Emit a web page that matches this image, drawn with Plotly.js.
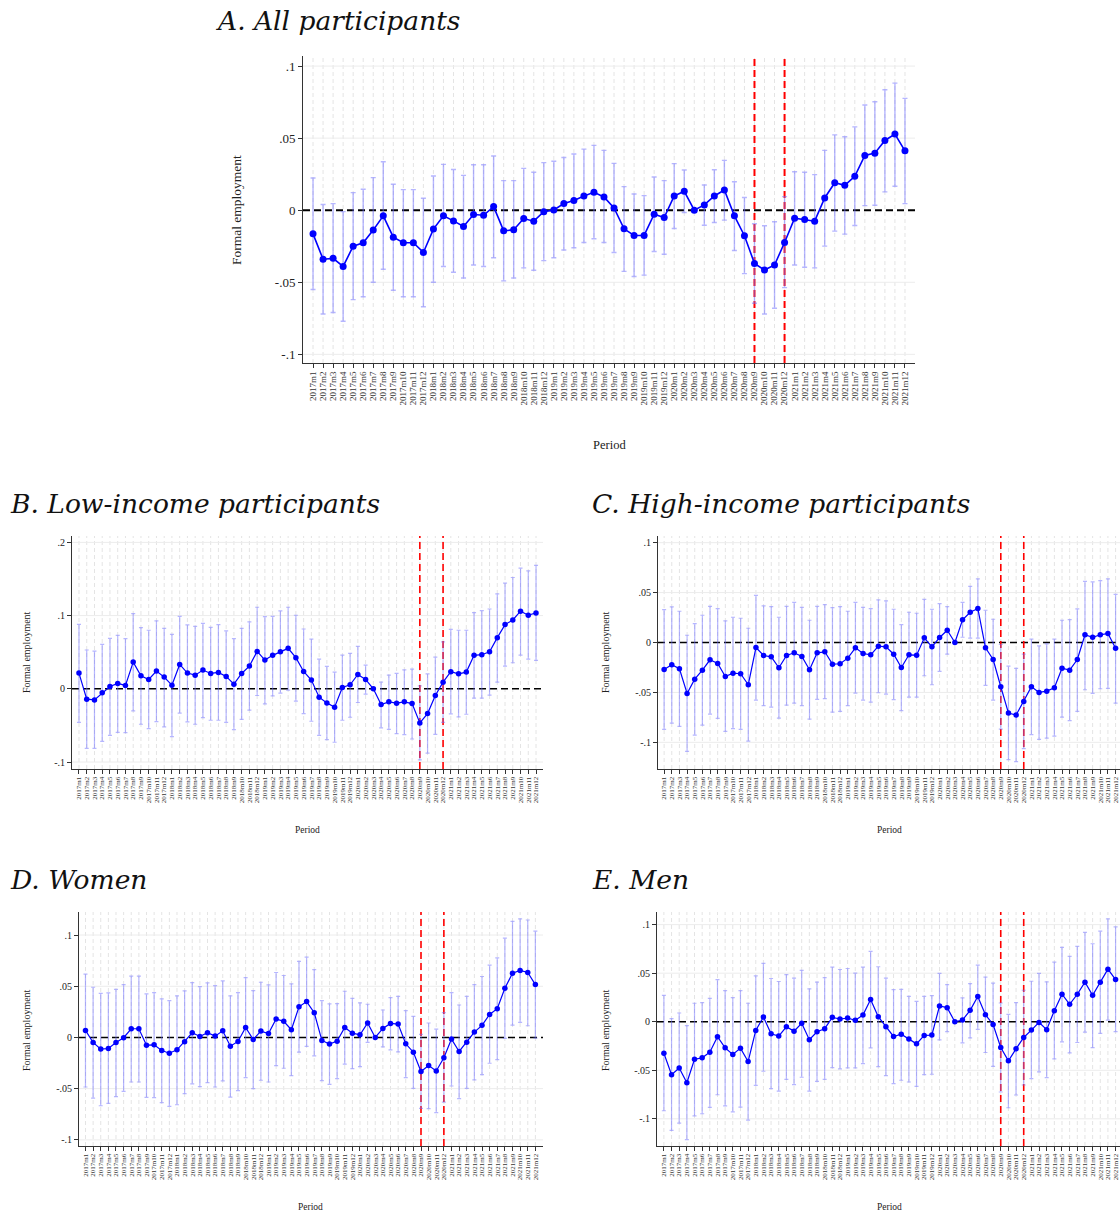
<!DOCTYPE html>
<html>
<head>
<meta charset="utf-8">
<script src="https://cdn.plot.ly/plotly-3.0.1.min.js"></script>
<style>
html,body{margin:0;padding:0;background:#fff;overflow:hidden;}
#chart{width:1130px;height:1217px;}
</style>
</head>
<body>
<div id="chart"></div>
<script>
// ---------------- DATA ----------------
const periods = [];
const years = [2017, 2018, 2019, 2020, 2021];
for (const yr of years) { for (let m = 1; m <= 12; m++) periods.push(yr + "m" + m); }

const shockStart = "2020m9";
const shockEnd = "2020m12";

const estA = [-0.0164,-0.034,-0.0334,-0.039,-0.025,-0.0226,-0.0138,-0.0039,-0.0187,-0.0226,-0.0226,-0.0293,-0.0131,-0.0039,-0.0074,-0.0113,-0.003,-0.0035,0.0025,-0.0143,-0.0136,-0.0058,-0.0076,-0.001,0.0002,0.0046,0.0067,0.0099,0.0124,0.0092,0.0016,-0.0129,-0.0175,-0.0175,-0.0028,-0.0051,0.0099,0.0131,0.0,0.0037,0.0099,0.014,-0.0039,-0.0177,-0.0369,-0.0415,-0.038,-0.0224,-0.0055,-0.0065,-0.0076,0.0085,0.0191,0.0173,0.0235,0.038,0.0396,0.0484,0.0528,0.0412];
const hiA = [0.0224,0.004,0.0046,-0.001,0.0122,0.0145,0.0226,0.0336,0.018,0.0143,0.0143,0.0083,0.0237,0.0318,0.0283,0.0242,0.0316,0.0316,0.0376,0.0205,0.0205,0.029,0.0263,0.033,0.034,0.0366,0.039,0.0424,0.045,0.0415,0.0325,0.0164,0.0113,0.0101,0.023,0.0205,0.0323,0.0279,0.0,0.0175,0.0281,0.0346,0.0198,0.0088,-0.0094,-0.0108,-0.008,0.0094,0.0267,0.0263,0.0247,0.0415,0.0523,0.051,0.0578,0.073,0.0753,0.0836,0.0882,0.0776];
const loA = [-0.055,-0.072,-0.071,-0.077,-0.062,-0.06,-0.05,-0.041,-0.0555,-0.06,-0.06,-0.067,-0.05,-0.039,-0.043,-0.047,-0.038,-0.039,-0.033,-0.049,-0.047,-0.04,-0.0417,-0.035,-0.033,-0.0276,-0.026,-0.0224,-0.0198,-0.0224,-0.0293,-0.0424,-0.046,-0.045,-0.0286,-0.0306,-0.0127,-0.0016,0.0,-0.0104,-0.0085,-0.0069,-0.0279,-0.044,-0.0645,-0.072,-0.068,-0.0537,-0.038,-0.0396,-0.04,-0.0249,-0.0145,-0.0166,-0.0106,0.0032,0.0035,0.0127,0.0166,0.0046];

const estB = [0.0215,-0.0142,-0.0151,-0.0055,0.0032,0.0073,0.0046,0.0365,0.0178,0.0128,0.0242,0.016,0.005,0.0333,0.0215,0.0187,0.0256,0.021,0.0224,0.0169,0.0064,0.021,0.031,0.0511,0.0393,0.0457,0.0507,0.0553,0.0425,0.0237,0.0119,-0.0114,-0.0192,-0.0251,0.0018,0.0055,0.0196,0.0128,0.0,-0.0215,-0.0178,-0.0196,-0.0178,-0.0201,-0.0466,-0.0338,-0.0091,0.0091,0.0233,0.0205,0.0228,0.0457,0.0466,0.0507,0.0699,0.0877,0.094,0.106,0.1005,0.1037];
const hiB = [0.088,0.053,0.0516,0.0607,0.069,0.073,0.0685,0.1027,0.0836,0.08,0.0927,0.0826,0.0744,0.099,0.0872,0.0854,0.0895,0.084,0.0877,0.079,0.0685,0.0826,0.0913,0.1114,0.0986,0.099,0.1064,0.1114,0.1005,0.0817,0.068,0.0406,0.0306,0.0228,0.046,0.0484,0.058,0.0324,0.0,0.0091,0.0187,0.021,0.026,0.027,0.004,0.0205,0.0434,0.064,0.0813,0.08,0.08,0.104,0.1068,0.109,0.1297,0.1443,0.152,0.1648,0.1612,0.1685];
const loB = [-0.0457,-0.0813,-0.0813,-0.0717,-0.0635,-0.0594,-0.0598,-0.03,-0.0484,-0.0543,-0.0447,-0.052,-0.0653,-0.0333,-0.0452,-0.0484,-0.0393,-0.0429,-0.0429,-0.0457,-0.0557,-0.0416,-0.0292,-0.0091,-0.0205,-0.0096,-0.006,-0.0018,-0.0169,-0.0338,-0.0443,-0.0635,-0.0694,-0.073,-0.0429,-0.0388,-0.0187,-0.0073,0.0,-0.0534,-0.0553,-0.0612,-0.0626,-0.0685,-0.097,-0.0877,-0.0621,-0.0457,-0.0342,-0.0384,-0.0347,-0.0128,-0.0128,-0.0087,0.0091,0.031,0.0356,0.0461,0.0406,0.0388];

const estC = [-0.027,-0.0223,-0.0263,-0.051,-0.0367,-0.0277,-0.0173,-0.021,-0.034,-0.0307,-0.0313,-0.0423,-0.005,-0.013,-0.0143,-0.0253,-0.013,-0.0103,-0.014,-0.0273,-0.0103,-0.0093,-0.0217,-0.0213,-0.0157,-0.0053,-0.011,-0.0123,-0.0037,-0.0043,-0.0117,-0.025,-0.0123,-0.0127,0.0047,-0.0043,0.005,0.0123,0.0,0.0227,0.0303,0.034,-0.0053,-0.017,-0.0443,-0.0707,-0.0727,-0.059,-0.0443,-0.05,-0.0487,-0.0453,-0.0257,-0.0277,-0.017,0.0077,0.0053,0.0077,0.009,-0.0057];
const hiC = [0.033,0.0357,0.0313,0.0073,0.019,0.0273,0.0363,0.034,0.0217,0.0253,0.0243,0.0143,0.0473,0.0367,0.036,0.0253,0.0363,0.0403,0.0353,0.0223,0.0363,0.038,0.035,0.036,0.0313,0.0403,0.0353,0.034,0.0427,0.0417,0.0333,0.018,0.0303,0.0293,0.0433,0.0333,0.039,0.036,0.0,0.0403,0.0563,0.0637,0.0323,0.0233,-0.002,-0.0237,-0.026,-0.0117,0.0033,-0.0033,-0.0013,0.0033,0.0223,0.023,0.0337,0.0613,0.0607,0.062,0.0637,0.0483];
const loC = [-0.087,-0.0807,-0.084,-0.109,-0.0927,-0.0827,-0.0717,-0.076,-0.089,-0.0863,-0.087,-0.0987,-0.0577,-0.0633,-0.0647,-0.0757,-0.0627,-0.0607,-0.0633,-0.0767,-0.057,-0.0563,-0.0697,-0.069,-0.0633,-0.0507,-0.0577,-0.0597,-0.0503,-0.0517,-0.0573,-0.0683,-0.0547,-0.0547,-0.0333,-0.0423,-0.029,-0.0117,0.0,0.0053,0.0043,0.0043,-0.043,-0.0577,-0.0867,-0.1173,-0.1193,-0.1063,-0.0923,-0.097,-0.0957,-0.0937,-0.0747,-0.0783,-0.069,-0.0473,-0.051,-0.0463,-0.046,-0.0607];

const estD = [0.0069,-0.0049,-0.0114,-0.0108,-0.0049,-0.0003,0.0085,0.0085,-0.0075,-0.0072,-0.0127,-0.0154,-0.0121,-0.0042,0.0046,0.001,0.0046,0.0013,0.0065,-0.0085,-0.0039,0.0098,-0.002,0.0062,0.0039,0.018,0.0157,0.0075,0.0299,0.035,0.0242,-0.0029,-0.0065,-0.0036,0.0098,0.0042,0.0026,0.0141,0.0,0.0088,0.0137,0.0131,-0.0062,-0.0144,-0.0333,-0.0275,-0.0327,-0.0199,-0.0016,-0.0137,-0.0046,0.0052,0.0118,0.0225,0.0281,0.048,0.0627,0.0654,0.0634,0.0516];
const hiD = [0.0618,0.049,0.0431,0.0435,0.047,0.0516,0.0598,0.0598,0.0425,0.0438,0.0376,0.036,0.0405,0.0454,0.0536,0.0497,0.0533,0.0507,0.0552,0.0405,0.0438,0.0585,0.0458,0.0539,0.0513,0.0634,0.0605,0.0523,0.0742,0.0784,0.0663,0.036,0.0327,0.033,0.0451,0.0382,0.0337,0.0324,0.0,0.0268,0.0389,0.0402,0.0261,0.0206,0.003,0.0141,0.0082,0.0242,0.0438,0.0317,0.0402,0.0516,0.0595,0.0706,0.0778,0.097,0.1134,0.1157,0.1147,0.1039];
const loD = [-0.0484,-0.0592,-0.0667,-0.0644,-0.0578,-0.0526,-0.0435,-0.0435,-0.0585,-0.0588,-0.0637,-0.0673,-0.0657,-0.0549,-0.0454,-0.048,-0.0441,-0.0484,-0.0425,-0.0582,-0.052,-0.0392,-0.05,-0.0418,-0.0435,-0.0275,-0.0301,-0.0373,-0.0144,-0.0088,-0.018,-0.0422,-0.0458,-0.0402,-0.0261,-0.0304,-0.0284,-0.0049,0.0,-0.0092,-0.0121,-0.0141,-0.0392,-0.0497,-0.0693,-0.0696,-0.0735,-0.0631,-0.0474,-0.0598,-0.0497,-0.0415,-0.0363,-0.0252,-0.0216,-0.001,0.0121,0.0147,0.0114,-0.0007];

const estE = [-0.0324,-0.0545,-0.0476,-0.0628,-0.0386,-0.0372,-0.0314,-0.0155,-0.0269,-0.0338,-0.0272,-0.041,-0.009,0.0048,-0.0124,-0.0148,-0.0052,-0.0097,-0.0017,-0.0186,-0.0103,-0.0072,0.0045,0.0028,0.0038,0.0014,0.0069,0.0228,0.0052,-0.0052,-0.0152,-0.0128,-0.0179,-0.0228,-0.0141,-0.0138,0.0162,0.0145,0.0,0.0017,0.0117,0.0259,0.0072,-0.0028,-0.0266,-0.0403,-0.0279,-0.0162,-0.0086,-0.0007,-0.0083,0.0114,0.0283,0.0179,0.0283,0.0407,0.0272,0.0407,0.0541,0.0434];
const hiE = [0.0272,0.0031,0.009,-0.0041,0.019,0.0197,0.0241,0.0434,0.0321,0.0248,0.0321,0.019,0.0472,0.06,0.0445,0.0414,0.0486,0.0448,0.0528,0.0338,0.0407,0.0455,0.0562,0.0538,0.0548,0.05,0.0562,0.0724,0.0566,0.0448,0.0331,0.0334,0.0262,0.021,0.0262,0.0269,0.0497,0.0383,0.0,0.0245,0.0393,0.0583,0.0459,0.0397,0.0193,0.0076,0.0197,0.0324,0.0417,0.0497,0.041,0.0614,0.0766,0.0672,0.0776,0.0921,0.0803,0.0934,0.1059,0.0976];
const loE = [-0.0917,-0.112,-0.1045,-0.1214,-0.0969,-0.0948,-0.0883,-0.0752,-0.0866,-0.0928,-0.0879,-0.1014,-0.0655,-0.051,-0.069,-0.0714,-0.0593,-0.0648,-0.0572,-0.0714,-0.0614,-0.0593,-0.0472,-0.0486,-0.0476,-0.0476,-0.0431,-0.0269,-0.0462,-0.0555,-0.0638,-0.0603,-0.0621,-0.0666,-0.0545,-0.0541,-0.0186,-0.0103,0.0,-0.0217,-0.0166,-0.0079,-0.0317,-0.0459,-0.0724,-0.0886,-0.0755,-0.0652,-0.0586,-0.0517,-0.0576,-0.0383,-0.0207,-0.0321,-0.0214,-0.0107,-0.0266,-0.0121,0.0017,-0.0103];

const panelTitles = ["A. All participants", "B. Low-income participants", "C. High-income participants", "D. Women", "E. Men"];
const yTitle = "Formal employment";
const xTitle = "Period";
const yTicksStd = [-0.1, -0.05, 0, 0.05, 0.1];
const yTickTextStd = ["-.1", "-.05", "0", ".05", ".1"];
const yTicksB = [-0.1, 0, 0.1, 0.2];
const yTickTextB = ["-.1", "0", ".1", ".2"];

// ---------------- LAYOUT (pixel geometry) ----------------
const W = 1130, H = 1217;
const FONT = "'Liberation Serif', 'DejaVu Serif', serif";
const TFONT = "'DejaVu Serif', 'Liberation Serif', serif";
const px = v => v / W;
const py = v => 1 - v / H;

const panels = [
  {est: estA, hi: hiA, lo: loA, title: panelTitles[0], dom: [303, 915, 56, 363], xr: [-1, 60], yr: [-0.106, 0.107],
   tv: yTicksStd, tt: yTickTextStd, big: true, tpos: [213, 20], ytpos: [236, 210], xtpos: [609, 445]},
  {est: estB, hi: hiB, lo: loB, title: panelTitles[1], dom: [72, 543, 536, 769], xr: [-0.9, 59.9], yr: [-0.1095, 0.2087],
   tv: yTicksB, tt: yTickTextB, big: false, tpos: [8, 503], ytpos: [26, 652], xtpos: [307, 830]},
  {est: estC, hi: hiC, lo: loC, title: panelTitles[2], dom: [658, 1124, 536, 769], xr: [-0.8, 60.1], yr: [-0.1267, 0.1067],
   tv: yTicksStd, tt: yTickTextStd, big: false, tpos: [590, 503], ytpos: [605, 652], xtpos: [889, 830]},
  {est: estD, hi: hiD, lo: loD, title: panelTitles[3], dom: [79, 543, 912, 1146], xr: [-0.85, 60], yr: [-0.106, 0.1225],
   tv: yTicksStd, tt: yTickTextStd, big: false, tpos: [8, 880], ytpos: [26, 1030], xtpos: [310, 1207]},
  {est: estE, hi: hiE, lo: loE, title: panelTitles[4], dom: [657, 1124, 912, 1146], xr: [-0.9, 60.1], yr: [-0.128, 0.113],
   tv: yTicksStd, tt: yTickTextStd, big: false, tpos: [590, 880], ytpos: [605, 1030], xtpos: [889, 1207]}
];

const data = [];
const layout = {
  width: W, height: H,
  margin: {l: 0, r: 0, t: 0, b: 0},
  paper_bgcolor: "#fff", plot_bgcolor: "#fff",
  showlegend: false,
  font: {family: FONT, color: "#222"},
  shapes: [], annotations: []
};

panels.forEach((p, k) => {
  const n = k === 0 ? "" : String(k + 1);
  const xa = "x" + n, ya = "y" + n;
  data.push({
    type: "scatter", mode: "lines+markers",
    x: periods, y: p.est, xaxis: xa, yaxis: ya,
    line: {color: "#0000ff", width: p.big ? 1.6 : 1.2},
    marker: {color: "#0000ff", size: p.big ? 7 : 5.5},
    error_y: {
      type: "data", symmetric: false,
      array: p.hi.map((v, i) => v - p.est[i]),
      arrayminus: p.est.map((v, i) => v - p.lo[i]),
      color: "rgba(110,110,255,0.5)", thickness: p.big ? 1.4 : 1.2, width: p.big ? 2.5 : 2
    },
    hoverinfo: "x+y"
  });
  layout["xaxis" + n] = {
    domain: [px(p.dom[0]), px(p.dom[1])], anchor: ya,
    type: "category", range: p.xr,
    tickmode: "array", tickvals: periods, ticktext: periods,
    showline: true, linecolor: "#333", linewidth: 1,
    ticks: "outside", ticklen: 4, tickcolor: "#333", tickwidth: 1,
    tickangle: -90, tickfont: {family: FONT, size: p.big ? 9 : 7, color: "#333"},
    showgrid: false, zeroline: false, fixedrange: true, automargin: false
  };
  layout["yaxis" + n] = {
    domain: [py(p.dom[3]), py(p.dom[2])], anchor: xa,
    range: p.yr, tickvals: p.tv, ticktext: p.tt,
    showline: true, linecolor: "#333", linewidth: 1,
    ticks: "outside", ticklen: 4, tickcolor: "#333", tickwidth: 1,
    tickfont: {family: FONT, size: p.big ? 13 : 10, color: "#222"},
    showgrid: false, zeroline: false, fixedrange: true, automargin: false
  };
  // light grid (drawn as shapes so the reference lines can sit above it)
  periods.forEach((lbl, i) => {
    layout.shapes.push({type: "line", xref: xa, yref: ya + " domain", x0: i, x1: i, y0: 0, y1: 1,
      line: {color: "#e4e4e4", width: 1, dash: "4px,3px"}, layer: "below"});
  });
  p.tv.forEach(v => {
    if (v === 0) return;
    layout.shapes.push({type: "line", xref: xa + " domain", yref: ya, x0: 0, x1: 1, y0: v, y1: v,
      line: {color: "#ececec", width: 1}, layer: "below"});
  });
  // zero reference line
  layout.shapes.push({type: "line", xref: xa + " domain", yref: ya, x0: 0, x1: 1, y0: 0, y1: 0,
    line: {color: "#000", width: p.big ? 2 : 1.6, dash: "7px,4px"}, layer: "below"});
  // shock period lines
  [shockStart, shockEnd].forEach(lbl => {
    const ix = periods.indexOf(lbl);
    layout.shapes.push({type: "line", xref: xa, yref: ya + " domain", x0: ix, x1: ix, y0: 0, y1: 1,
      line: {color: "#ff0000", width: p.big ? 2 : 1.6, dash: "7px,4px"}, layer: "below"});
  });
  // panel title
  layout.annotations.push({text: "<i>" + p.title + "</i>", xref: "paper", yref: "paper",
    x: px(p.tpos[0]), y: py(p.tpos[1]), xanchor: "left", yanchor: "middle", showarrow: false,
    font: {family: TFONT, size: 26.5, color: "#111", style: "italic"}});
  // y title
  layout.annotations.push({text: yTitle, xref: "paper", yref: "paper", textangle: -90,
    x: px(p.ytpos[0]), y: py(p.ytpos[1]), xanchor: "center", yanchor: "middle", showarrow: false,
    font: {family: FONT, size: p.big ? 13.5 : 10, color: "#222"}});
  // x title
  layout.annotations.push({text: xTitle, xref: "paper", yref: "paper",
    x: px(p.xtpos[0]), y: py(p.xtpos[1]), xanchor: "center", yanchor: "middle", showarrow: false,
    font: {family: FONT, size: p.big ? 12.5 : 9.5, color: "#222"}});
});

Plotly.newPlot("chart", data, layout, {staticPlot: true, displayModeBar: false});
</script>
</body>
</html>
